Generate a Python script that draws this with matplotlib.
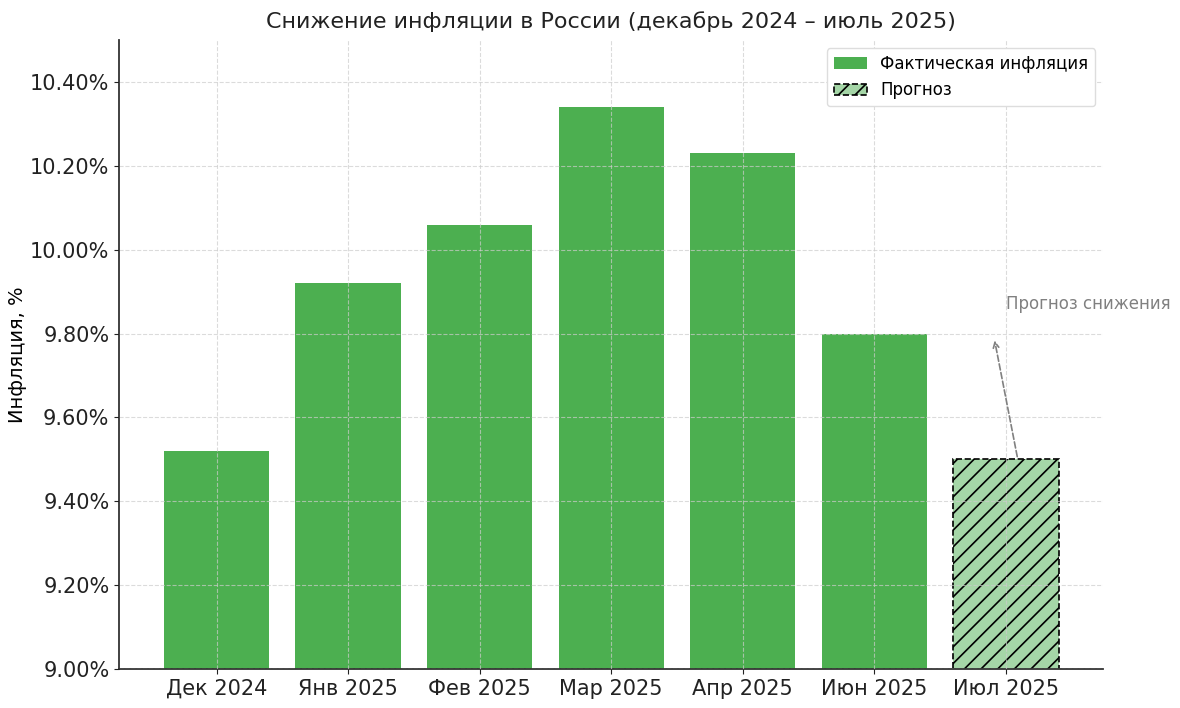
import matplotlib.pyplot as plt
import matplotlib.ticker as mticker
import numpy as np

# Monthly inflation, % YoY
months = ["Дек 2024", "Янв 2025", "Фев 2025", "Мар 2025", "Апр 2025", "Июн 2025"]
actual = [9.52, 9.92, 10.06, 10.34, 10.23, 9.80]
forecast_month = "Июл 2025"
forecast_value = 9.50

labels = months + [forecast_month]
x = np.arange(len(labels))

plt.rcParams["hatch.linewidth"] = 1.2

fig = plt.figure(figsize=(11.8, 7.08), dpi=100)
ax = fig.add_axes([0.101, 0.055, 0.834, 0.8885])

ax.bar(x[:-1], actual, width=0.8, color="#4caf50", label="Фактическая инфляция", zorder=2)
ax.bar(x[-1], forecast_value, width=0.8, color="#a5d6a7", edgecolor="black",
       linestyle="--", linewidth=1.2, hatch="//", label="Прогноз", zorder=2)

ax.set_ylim(9.0, 10.5)
ax.set_xticks(x)
ax.set_xticklabels(labels)
ax.yaxis.set_major_locator(mticker.MultipleLocator(0.2))
ax.yaxis.set_major_formatter(mticker.FuncFormatter(lambda v, p: f"{v:.2f}%"))
ax.tick_params(axis="both", labelsize=15, colors="#222222")
ax.set_ylabel("Инфляция, %", fontsize=14, labelpad=2)

ax.set_title("Снижение инфляции в России (декабрь 2024 – июль 2025)", fontsize=16, pad=9,
             color="#222222")

ax.grid(True, linestyle="--", color="#cccccc", linewidth=0.8, alpha=0.7, zorder=3)
ax.set_axisbelow(False)
for s in ["top", "right"]:
    ax.spines[s].set_visible(False)
for s in ["left", "bottom"]:
    ax.spines[s].set_linewidth(1.3)
    ax.spines[s].set_color("#333333")

# arrow towards the forecast label
ax.annotate("", xy=(x[-1] - 0.09, 9.79), xytext=(x[-1] + 0.09, 9.50),
            arrowprops=dict(arrowstyle="->", color="gray", linestyle="--", lw=1.2))
ax.text(x[-1], 9.85, "Прогноз снижения", fontsize=12, color="gray", ha="left", va="bottom")

ax.legend(loc="upper right", fontsize=12, framealpha=1, edgecolor="#dddddd")

plt.savefig("out.png", dpi=100)
